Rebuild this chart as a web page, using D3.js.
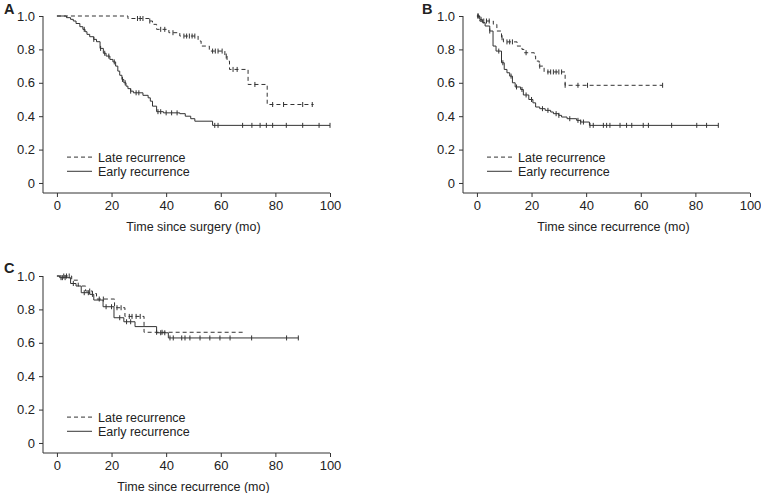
<!DOCTYPE html>
<html><head><meta charset="utf-8">
<script src="https://cdn.jsdelivr.net/npm/d3@7"></script>
<style>body{margin:0;background:#fff}svg{display:block}</style>
</head><body>
<svg id="c" width="761" height="493"></svg>
<script>
// ---------- data ----------
const xTicks = [0, 20, 40, 60, 80, 100];
const yTicks = [0, 0.2, 0.4, 0.6, 0.8, 1.0];
const yTickLabels = ["0", "0.2", "0.4", "0.6", "0.8", "1.0"];
const seriesNames = ["Late recurrence", "Early recurrence"];
const panelLabels = ["A", "B", "C"];
const xTitles = ["Time since surgery (mo)", "Time since recurrence (mo)", "Time since recurrence (mo)"];

// Panel A
const lateA_t = [0, 26, 33.7, 35, 36.5, 41, 45, 51.7, 52.8, 55.8, 61.5, 62.3, 63.2, 70, 77];
const lateA_s = [1, 0.985, 0.97, 0.95, 0.92, 0.90, 0.88, 0.85, 0.82, 0.79, 0.76, 0.73, 0.68, 0.59, 0.47];
const lateA_end = 94;
const lateA_cens = [29.5, 30.5, 31.5, 34, 38, 39.5, 42.5, 46.5, 47.5, 48.5, 49.5, 50.5, 57, 58, 59, 60.5, 62, 64.5, 66, 72.5, 79, 83, 90, 93.5];
const earlyA_t = [0, 3.5, 5, 6, 7, 8.4, 9.5, 10.3, 11, 12, 13.5, 14.5, 15.8, 17, 18, 19.4, 20.5, 21.5, 22.3, 23, 23.8, 24.5, 25.3, 26, 27, 28, 31.5, 33.4, 34.2, 35, 36.5, 39, 45, 47, 49, 50.5, 57];
const earlyA_s = [1, 0.99, 0.98, 0.97, 0.955, 0.936, 0.92, 0.906, 0.89, 0.876, 0.86, 0.846, 0.806, 0.777, 0.76, 0.74, 0.725, 0.70, 0.67, 0.645, 0.62, 0.60, 0.58, 0.565, 0.55, 0.54, 0.525, 0.51, 0.49, 0.46, 0.427, 0.42, 0.415, 0.40, 0.385, 0.37, 0.345];
const earlyA_end = 100;
const earlyA_cens = [10, 13.5, 16, 17.5, 19, 21, 24, 25, 27, 29, 30, 37, 38, 40, 42, 44, 57.8, 59, 68, 71.4, 74.4, 76.7, 79, 84, 90, 96, 100];

// Panel B
const lateB_t = [0, 1, 6, 7.3, 9, 9.7, 14.7, 16.5, 17.2, 21, 21.5, 22.8, 24.6, 32.3];
const lateB_s = [1, 0.97, 0.95, 0.91, 0.87, 0.845, 0.82, 0.80, 0.78, 0.76, 0.73, 0.70, 0.665, 0.585];
const lateB_end = 68;
const lateB_cens = [0.3, 2.5, 3.5, 4.5, 9.2, 11, 12, 13, 18, 23, 26, 27, 28, 29, 30, 31, 32.3, 37, 40.5, 68];
const earlyB_t = [0, 1, 2, 3, 4.7, 5.9, 7, 9, 10, 11, 12, 13, 14, 16, 17, 19, 20.5, 21.5, 23, 25, 27, 28, 30, 31, 33, 36.5, 38, 41.2];
const earlyB_s = [1, 0.98, 0.96, 0.94, 0.91, 0.82, 0.79, 0.72, 0.68, 0.66, 0.64, 0.60, 0.575, 0.56, 0.527, 0.50, 0.48, 0.455, 0.445, 0.435, 0.425, 0.415, 0.405, 0.395, 0.385, 0.375, 0.365, 0.345];
const earlyB_end = 88.4;
const earlyB_cens = [0.5, 1.5, 4.7, 8, 9.5, 12.5, 14.5, 16.5, 18, 20, 24, 26, 29, 30, 34, 37, 38, 39, 41.4, 42.6, 46.3, 47.5, 48.7, 52.4, 54.8, 56.7, 60.9, 62.8, 71.3, 80.5, 84.1, 88.4];

// Panel C
const lateC_t = [0, 5.4, 7.8, 10.5, 13, 14.5, 21.1, 24.9, 31.9];
const lateC_s = [1, 0.975, 0.94, 0.91, 0.895, 0.862, 0.81, 0.758, 0.663];
const lateC_end = 68.5;
const lateC_cens = [2.5, 3.5, 4.5, 12, 15.5, 17, 22, 23.5, 26.5, 27.5, 29, 30.5, 36.5, 38.5];
const earlyC_t = [0, 1, 5, 7, 8.9, 12, 13.5, 16.9, 20.9, 24.5, 28.6, 36.5, 40.8];
const earlyC_s = [1, 0.99, 0.955, 0.94, 0.90, 0.89, 0.856, 0.816, 0.75, 0.726, 0.697, 0.66, 0.629];
const earlyC_end = 88.4;
const earlyC_cens = [1.5, 2, 3, 6, 10, 11.5, 13, 18, 20, 23, 25.5, 27, 38, 39.5, 41.4, 42.6, 45.7, 46.9, 48.7, 52.4, 56, 59.7, 63.4, 71.3, 84.1, 88.4];

// ---------- drawing ----------
const svg = d3.select("#c");
const FONT = "'Liberation Sans', Arial, sans-serif";
const INK = "#333";

const panels = [
  {label: panelLabels[0], lx: 4, ly: 14, left: 43, right: 330, top: 16, bottom: 193, title: xTitles[0],
   curves: [[lateA_t, lateA_s, lateA_end, lateA_cens, true], [earlyA_t, earlyA_s, earlyA_end, earlyA_cens, false]]},
  {label: panelLabels[1], lx: 422, ly: 14, left: 463, right: 750, top: 16, bottom: 193, title: xTitles[1],
   curves: [[lateB_t, lateB_s, lateB_end, lateB_cens, true], [earlyB_t, earlyB_s, earlyB_end, earlyB_cens, false]]},
  {label: panelLabels[2], lx: 4, ly: 273, left: 43, right: 330, top: 276, bottom: 453, title: xTitles[2],
   curves: [[lateC_t, lateC_s, lateC_end, lateC_cens, true], [earlyC_t, earlyC_s, earlyC_end, earlyC_cens, false]]}
];

function stepVal(ts, ss, t) {
  let v = ss[0];
  for (let i = 0; i < ts.length; i++) { if (ts[i] <= t) v = ss[i]; }
  return v;
}

panels.forEach(p => {
  const g = svg.append("g");
  const x = d3.scaleLinear().domain([-5.1, 100]).range([p.left, p.right]);
  const y = d3.scaleLinear().domain([-0.06, 1.0]).range([p.bottom, p.top]);

  g.append("text").attr("x", p.lx).attr("y", p.ly).text(p.label)
    .attr("font-family", FONT).attr("font-weight", "bold").attr("font-size", 14.5).attr("fill", "#222");

  const xa = g.append("g").attr("transform", `translate(0,${p.bottom})`)
    .call(d3.axisBottom(x).tickValues(xTicks).tickSize(4).tickPadding(4).tickFormat(d3.format("d")));
  const ya = g.append("g").attr("transform", `translate(${p.left},0)`)
    .call(d3.axisLeft(y).tickValues(yTicks).tickSize(4).tickPadding(4).tickFormat((d, i) => yTickLabels[i]));
  [xa, ya].forEach(a => {
    a.select(".domain").attr("stroke", INK).attr("d", null);
    a.selectAll(".tick line").attr("stroke", INK);
    a.selectAll("text").attr("font-family", FONT).attr("font-size", 13).attr("fill", "#222");
  });
  xa.select(".domain").attr("d", `M${p.left},0H${p.right}`);
  ya.select(".domain").attr("d", `M0,${p.top}V${p.bottom}`);

  g.append("text").attr("x", (x(0) + x(100)) / 2).attr("y", p.bottom + 38)
    .attr("text-anchor", "middle").text(p.title)
    .attr("font-family", FONT).attr("font-size", 12.5).attr("fill", "#222");

  const line = d3.line().x(d => x(d[0])).y(d => y(d[1])).curve(d3.curveStepAfter);
  p.curves.forEach(([ts, ss, end, cens, dashed]) => {
    const pts = ts.map((t, i) => [t, ss[i]]);
    pts.push([end, ss[ss.length - 1]]);
    g.append("path").attr("d", line(pts)).attr("fill", "none").attr("stroke", INK)
      .attr("stroke-width", 1).attr("stroke-dasharray", dashed ? "4,3" : null);
    g.selectAll(null).data(cens).enter().append("line")
      .attr("x1", d => x(d)).attr("x2", d => x(d))
      .attr("y1", d => y(stepVal(ts, ss, d)) - 2.5).attr("y2", d => y(stepVal(ts, ss, d)) + 2.5)
      .attr("stroke", INK).attr("stroke-width", 1);
  });

  // legend
  const ly0 = y(0.155), ly1 = y(0.07);
  [[ly0, true, seriesNames[0]], [ly1, false, seriesNames[1]]].forEach(([yy, dashed, name]) => {
    g.append("line").attr("x1", p.left + 24).attr("x2", p.left + 49).attr("y1", yy).attr("y2", yy)
      .attr("stroke", INK).attr("stroke-width", 1).attr("stroke-dasharray", dashed ? "4,3" : null);
    g.append("text").attr("x", p.left + 55).attr("y", yy + 4.5).text(name)
      .attr("font-family", FONT).attr("font-size", 12.5).attr("fill", "#222");
  });
});
</script>
</body></html>
